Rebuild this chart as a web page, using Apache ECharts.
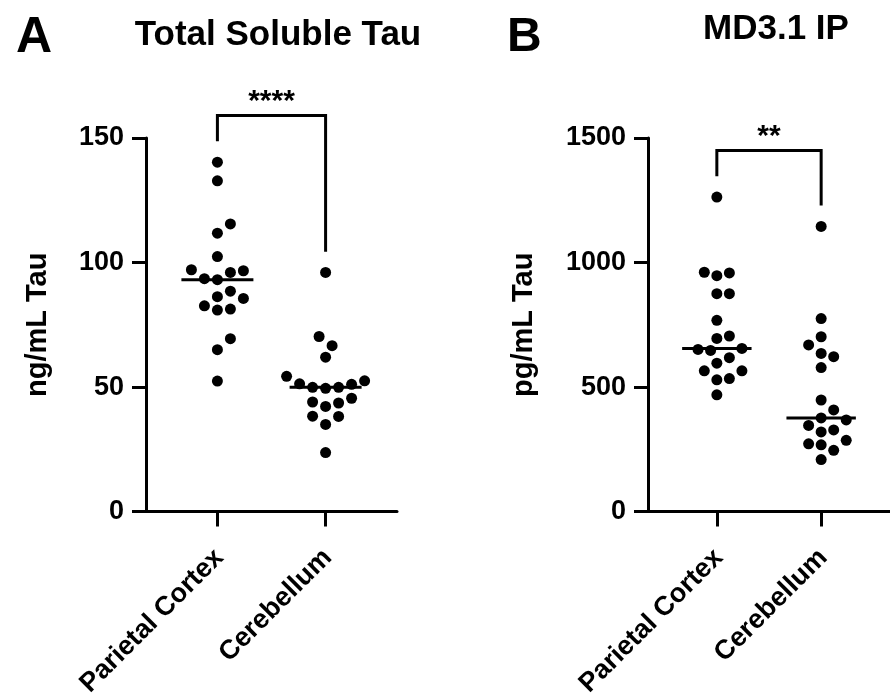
<!DOCTYPE html>
<html>
<head>
<meta charset="utf-8">
<script src="https://cdn.jsdelivr.net/npm/echarts@6/dist/echarts.min.js"></script>
<style>
  html, body { margin: 0; padding: 0; background: #ffffff; }
  #chart { width: 890px; height: 700px; }
</style>
</head>
<body>
<div id="chart"></div>
<script>
// Brain regions compared in both panels
const regions = ['Parietal Cortex', 'Cerebellum'];

// Panel A: total soluble tau (ng/mL)
const totalTauParietal = [140.3, 132.8, 115.5, 111.8, 102.4, 97.1, 96.7, 96.0, 93.5, 93.1, 88.5, 86.3, 85.6, 82.6, 81.3, 80.9, 69.4, 65.0, 52.4];
const totalTauCerebellum = [96.0, 70.3, 66.6, 62.0, 54.3, 52.5, 51.3, 51.1, 49.9, 49.9, 49.5, 45.5, 44.0, 43.6, 42.2, 38.3, 38.2, 35.0, 23.7];
const totalTauTicks = [0, 50, 100, 150];
const totalTauSig = '****';

// Panel B: MD3.1 immunoprecipitated tau (pg/mL)
const md31Parietal = [1263, 961, 958, 947, 875, 875, 768, 705, 695, 655, 651, 647, 618, 596, 565, 565, 534, 529, 469];
const md31Cerebellum = [1145, 775, 702, 669, 635, 622, 578, 448, 408, 376, 368, 346, 328, 320, 286, 272, 268, 246, 209];
const md31Ticks = [0, 500, 1000, 1500];
const md31Sig = '**';

const FONT = '"Liberation Sans", Arial, Helvetica, sans-serif';
const GRID_W = 251, GRID_H = 377;
const X_MIN = -0.66, X_MAX = 1.66;
const PX_PER_X = GRID_W / (X_MAX - X_MIN);
const DOT = 11;

function median(arr) {
  const s = arr.slice().sort((a, b) => a - b);
  const n = s.length;
  return n % 2 ? s[(n - 1) / 2] : (s[n / 2 - 1] + s[n / 2]) / 2;
}

// Simple beeswarm: place points bottom-up, nearest free horizontal slot
function swarm(values, pxPerY, dmin, step) {
  const order = values.map((v, i) => i).sort((a, b) => values[a] - values[b]);
  const placed = [];
  const off = new Array(values.length);
  for (const i of order) {
    const y = values[i] * pxPerY;
    for (let k = 0; k < 50; k++) {
      const cands = k === 0 ? [0] : [k * step, -k * step];
      let found = null;
      for (const x of cands) {
        if (placed.every(p => Math.hypot(p.x - x, p.y - y) >= dmin)) { found = x; break; }
      }
      if (found !== null) { off[i] = found; placed.push({ x: found, y }); break; }
    }
  }
  return off;
}

function panel(idx, groups, ticks, sig, left, top, yName, nameGap) {
  const yMax = ticks[ticks.length - 1];
  const pxPerY = GRID_H / yMax;
  const grid = { left: left, top: top, width: GRID_W, height: GRID_H };
  const axisLineStyle = { color: '#000', width: 3 };
  const xAxis = {
    type: 'value', gridIndex: idx, min: X_MIN, max: X_MAX,
    splitLine: { show: false },
    axisLine: { show: true, onZero: false, lineStyle: axisLineStyle },
    axisTick: { show: true, length: 15, lineStyle: axisLineStyle, customValues: regions.map((r, i) => i) },
    axisLabel: {
      show: true, rotate: 45, margin: 42,
      customValues: regions.map((r, i) => i + 2 / PX_PER_X),
      formatter: v => regions[Math.round(v)],
      color: '#000', fontSize: 27, fontWeight: 'bold', fontFamily: FONT
    }
  };
  const yAxis = {
    type: 'value', gridIndex: idx, min: ticks[0], max: yMax, interval: ticks[1] - ticks[0],
    splitLine: { show: false },
    axisLine: { show: true, onZero: false, lineStyle: axisLineStyle },
    axisTick: { show: true, length: 14, lineStyle: axisLineStyle },
    axisLabel: {
      margin: 22, formatter: v => String(v),
      color: '#000', fontSize: 27, fontWeight: 'bold', fontFamily: FONT
    },
    name: yName, nameLocation: 'middle', nameRotate: 90, nameGap: nameGap,
    nameTextStyle: { color: '#000', fontSize: 29, fontWeight: 'bold', fontFamily: FONT }
  };
  const series = [];
  groups.forEach((vals, gi) => {
    const off = swarm(vals, pxPerY, 13, 6.5);
    series.push({
      type: 'scatter', xAxisIndex: idx, yAxisIndex: idx,
      symbol: 'circle', symbolSize: DOT, itemStyle: { color: '#000', opacity: 1 },
      data: vals.map((v, i) => [gi + off[i] / PX_PER_X, v]), z: 3
    });
    const med = median(vals);
    const hw = 36 / PX_PER_X;
    series.push({
      type: 'line', xAxisIndex: idx, yAxisIndex: idx, symbol: 'none',
      lineStyle: { color: '#000', width: 3 },
      data: [[gi - hw, med], [gi + hw, med]], z: 4
    });
  });
  // Significance bracket above the two groups
  const maxes = groups.map(g => Math.max(...g));
  const legEnd = maxes.map(m => m + 21 / pxPerY);
  const barTop = Math.max(...maxes) + 47 / pxPerY;
  series.push({
    type: 'line', xAxisIndex: idx, yAxisIndex: idx, symbol: 'none', clip: false,
    lineStyle: { color: '#000', width: 3, join: 'miter' },
    data: [[0, legEnd[0]], [0, barTop], [1, barTop], [1, legEnd[1]]], z: 4
  });
  series.push({
    type: 'scatter', xAxisIndex: idx, yAxisIndex: idx, clip: false,
    symbolSize: 1, itemStyle: { color: 'rgba(0,0,0,0)', opacity: 1 },
    label: {
      show: true, position: 'top', distance: -2, formatter: sig, opacity: 1,
      color: '#000', fontSize: 30, fontWeight: 'bold', fontFamily: FONT
    },
    data: [[0.5, barTop]], z: 5
  });
  return { grid, xAxis, yAxis, series };
}

const pA = panel(0, [totalTauParietal, totalTauCerebellum], totalTauTicks, totalTauSig, 146, 138, 'ng/mL Tau', 94);
const pB = panel(1, [md31Parietal, md31Cerebellum], md31Ticks, md31Sig, 648, 138, 'pg/mL Tau', 110);

const titleStyle = (size) => ({ color: '#000', fontSize: size, fontWeight: 'bold', fontFamily: FONT });

const chart = echarts.init(document.getElementById('chart'), null, { renderer: 'canvas' });
chart.setOption({
  backgroundColor: '#ffffff',
  animation: false,
  textStyle: { fontFamily: FONT },
  title: [
    { text: 'A', left: 11, top: 8, textStyle: titleStyle(50) },
    { text: 'Total Soluble Tau', left: 273, top: 13, textAlign: 'center', textStyle: titleStyle(35) },
    { text: 'B', left: 502, top: 9, textStyle: titleStyle(48) },
    { text: 'MD3.1 IP', left: 771, top: 7, textAlign: 'center', textStyle: titleStyle(35) }
  ],
  grid: [pA.grid, pB.grid],
  xAxis: [pA.xAxis, pB.xAxis],
  yAxis: [pA.yAxis, pB.yAxis],
  series: pA.series.concat(pB.series)
});
</script>
</body>
</html>
